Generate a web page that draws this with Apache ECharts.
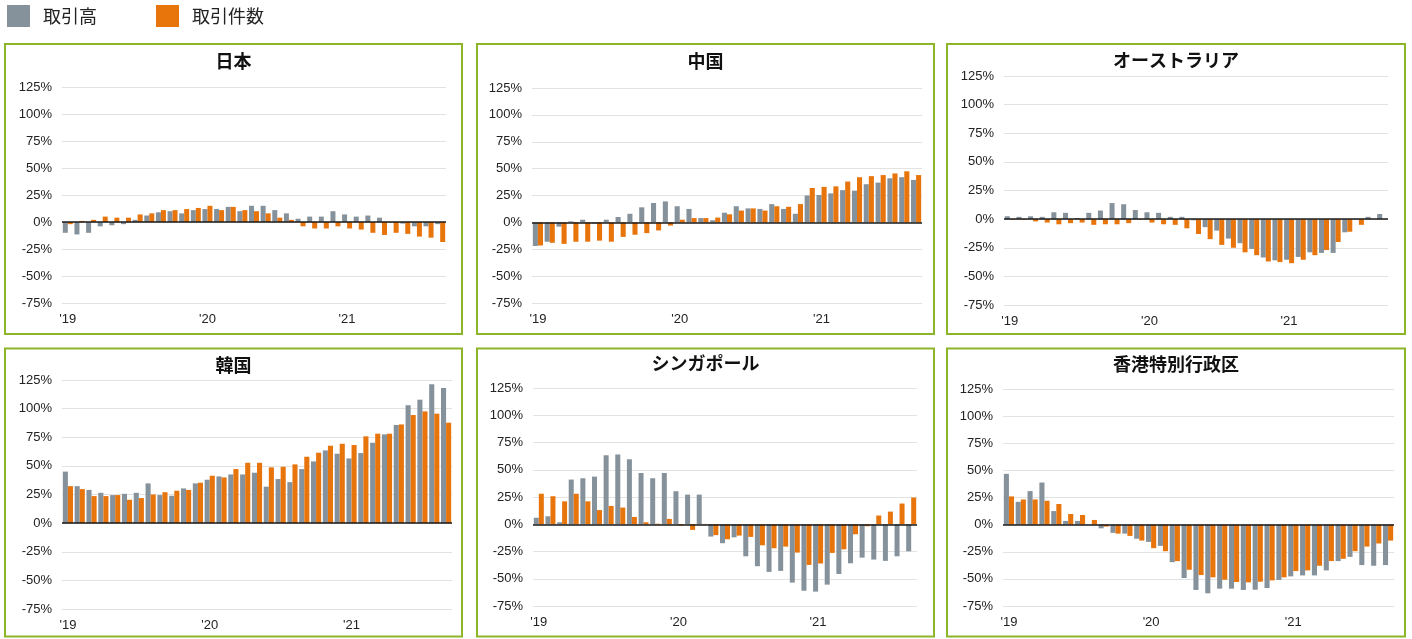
<!DOCTYPE html>
<html>
<head>
<meta charset="utf-8">
<script src="https://cdn.jsdelivr.net/npm/echarts@6/dist/echarts.min.js"></script>
<style>
    html, body { margin: 0; padding: 0; background: #fff; }
    #echart { width: 1412px; height: 639px; }
</style>
</head>
<body>
<div id="echart"></div>
<script>
var months = ['2019-01','2019-02','2019-03','2019-04','2019-05','2019-06','2019-07','2019-08','2019-09','2019-10','2019-11','2019-12',
    '2020-01','2020-02','2020-03','2020-04','2020-05','2020-06','2020-07','2020-08','2020-09','2020-10','2020-11','2020-12',
    '2021-01','2021-02','2021-03','2021-04','2021-05','2021-06','2021-07','2021-08','2021-09'];
var yTicks = [-75, -50, -25, 0, 25, 50, 75, 100, 125];
var seriesNames = ['取引高', '取引件数'];
var regions = ['日本', '中国', 'オーストラリア', '韓国', 'シンガポール', '香港特別行政区'];

// 前年比 (%)
var jpVolume = [-10,-11.5,-10,-4,-3,-2,2,6,9,10,8,11,12,12,14,10,15,15,11,8,3,5,5,10,7,5,6,4,-0.5,-1.5,-4,-4,-2];
var jpCount  = [-2,1,2,5,4,4,7,8,11,11,12,13,15,11,14,11,10,8,4,2,-4,-6,-6,-4,-6,-7,-10,-12,-10,-11,-13.5,-14.5,-18.5];
var cnVolume = [-22,-18,-4,1,2.5,-1,2.5,5,8,14,18,19.5,15,12.5,4,2,9,15,13,12.5,17,12.5,8,25,25.5,27,30,29.5,35.5,37,41,42,39.5];
var cnCount  = [-21.5,-19,-20,-18,-18,-17,-18,-13.5,-11.5,-10,-7.5,-3,2.5,4,4,4.5,7.5,11,13,11,15,14.5,17,32,33,33.5,38,42,43,44,45.5,47.5,44];
var auVolume = [2.5,2,2.5,2,6,5.5,1,5.5,7.5,14,13,8,6,5.5,2,2,-1,-7,-10,-17,-21,-26,-33.5,-36,-35.5,-33,-29,-29.5,-29.5,-11.5,-0.5,2,4.5];
var auCount  = [-0.5,-0.5,-2,-3,-4.5,-3.5,-3,-5,-4.5,-4.5,-3.5,-0.5,-3,-4.5,-5,-8,-13,-17.5,-22.5,-25,-29,-31.5,-37,-37.5,-38.5,-35.5,-31.5,-27,-20,-11,-5,0,0];
var krVolume = [45,32.3,29,26.5,24.5,25.6,26.5,34.7,24.5,23.9,30.3,34.7,37.9,40.8,42.5,42.5,44,31.8,38.5,35.8,47.2,53.9,63.5,60.6,56.5,61.2,70.2,77.5,85.7,103,107.8,121.2,118];
var krCount  = [32.3,29.7,23.6,23.6,24.5,20.4,21.9,25,27,28.3,29,35.3,41.4,39.9,47.2,52.7,52.7,48.7,49.2,51.3,58,61.5,67.6,69.3,68.2,75.8,78.1,78.1,86.2,94.4,97.6,95.6,87.7];
var sgVolume = [6,7.3,1.8,41,42.2,43.7,63.3,64,59.6,47,42.2,47,30.3,27.2,27.2,-11.3,-17.4,-12,-29.4,-38.5,-43.7,-42.8,-53.5,-61,-61.8,-55.4,-45.6,-35.8,-30.6,-32.4,-33.6,-29.4,-24.8];
var sgCount  = [28,25.7,21,28,21,13,16.8,15.3,6.7,1.8,0.5,4.9,-1.2,-5.2,0.3,-10,-13.8,-10.4,-11.6,-19.3,-22,-20.5,-26,-37.3,-36,-26.3,-23,-9.2,-1.8,8,11.6,19,24.5];
var hkVolume = [46.8,21,30.9,38.8,12.5,3.4,3.4,0,-3.4,-7.6,-8.3,-13,-15.9,-19.6,-34.6,-49.2,-60.2,-63.3,-59,-59,-60.2,-60,-58.4,-51,-47.7,-46.8,-46.8,-42.2,-33.6,-29.7,-37.3,-37.9,-37.3];
var hkCount  = [26,23.2,23.2,22,19,9.8,8.9,4.3,-1.8,-8.3,-10.4,-14.7,-21.7,-24.5,-33.6,-41.6,-46.5,-48.6,-50.8,-52.9,-53.2,-52.6,-51.4,-48.6,-42.8,-42.2,-37.9,-33.6,-31.5,-24.5,-20.2,-17.4,-14.7];

var volumeData = [jpVolume, cnVolume, auVolume, krVolume, sgVolume, hkVolume];
var countData = [jpCount, cnCount, auCount, krCount, sgCount, hkCount];

var GRAY = '#86929B';
var ORANGE = '#E8740C';
var BORDER = '#8DB52A';
var FONT = 'Liberation Sans, Arial, sans-serif';
var CJK = 'Noto Sans CJK JP, sans-serif';

// panel frame and plot area (px)
var panels = [
    {box: [5, 44, 457, 290],    grid: [62, 87, 384, 216],  title: 52},
    {box: [477, 44, 457, 290],  grid: [532, 88, 390, 215], title: 52},
    {box: [947, 44, 458, 290],  grid: [1004, 76, 384, 229], title: 51},
    {box: [5, 348.5, 457, 288], grid: [62, 380, 390, 229], title: 356},
    {box: [477, 348.5, 457, 288], grid: [533, 388, 384, 218], title: 354},
    {box: [947, 348.5, 458, 288], grid: [1003, 389, 391, 217], title: 355}
];

var grids = [], xAxes = [], yAxes = [], titles = [], series = [], frames = [];
for (var i = 0; i < panels.length; i++) {
    var p = panels[i];
    frames.push({
        type: 'rect',
        shape: {x: p.box[0], y: p.box[1], width: p.box[2], height: p.box[3]},
        style: {fill: 'none', stroke: BORDER, lineWidth: 2},
        silent: true
    });
    titles.push({
        text: regions[i],
        left: p.box[0] + p.box[2] / 2,
        top: p.title,
        textAlign: 'center',
        padding: 0,
        textStyle: {fontFamily: CJK, fontSize: 18, fontWeight: 'bold', color: '#111'}
    });
    grids.push({
        left: p.grid[0], top: p.grid[1], width: p.grid[2], height: p.grid[3],
        containLabel: false, outerBoundsMode: 'none'
    });
    xAxes.push({
        type: 'category',
        gridIndex: i,
        data: months,
        axisLine: {show: false, onZero: false},
        axisTick: {show: false},
        axisLabel: {
            interval: 11,
            margin: 10,
            fontFamily: FONT,
            fontSize: 13,
            color: '#222',
            formatter: function (v) {
                return "'" + v.slice(2, 4);
            }
        }
    });
    yAxes.push({
        type: 'value',
        gridIndex: i,
        min: yTicks[0],
        max: yTicks[yTicks.length - 1],
        interval: 25,
        axisLine: {show: false},
        axisTick: {show: false},
        splitLine: {lineStyle: {color: '#E2E2E2', width: 1}},
        axisLabel: {
            margin: 10,
            fontFamily: FONT,
            fontSize: 13,
            color: '#222',
            formatter: '{value}%'
        }
    });
    series.push({
        name: seriesNames[0],
        type: 'bar',
        xAxisIndex: i,
        yAxisIndex: i,
        data: volumeData[i],
        barGap: '0%',
        barCategoryGap: '14%',
        itemStyle: {color: GRAY},
        markLine: {
            silent: true,
            symbol: 'none',
            label: {show: false},
            lineStyle: {color: '#1a1a1a', width: 1.5, type: 'solid'},
            data: [{yAxis: 0}]
        }
    });
    series.push({
        name: seriesNames[1],
        type: 'bar',
        xAxisIndex: i,
        yAxisIndex: i,
        data: countData[i],
        barGap: '0%',
        barCategoryGap: '14%',
        itemStyle: {color: ORANGE}
    });
}

var myChart = echarts.init(document.getElementById('echart'));
var option = {
    animation: false,
    backgroundColor: '#fff',
    color: [GRAY, ORANGE],
    title: titles,
    legend: {
        data: seriesNames,
        left: 7,
        top: 5,
        padding: 0,
        icon: 'rect',
        itemWidth: 23,
        itemHeight: 22,
        itemGap: 59,
        textStyle: {fontFamily: CJK, fontSize: 18, color: '#222', padding: [0, 0, 0, 8]}
    },
    grid: grids,
    xAxis: xAxes,
    yAxis: yAxes,
    series: series,
    graphic: frames
};
myChart.setOption(option);
</script>
</body>
</html>
